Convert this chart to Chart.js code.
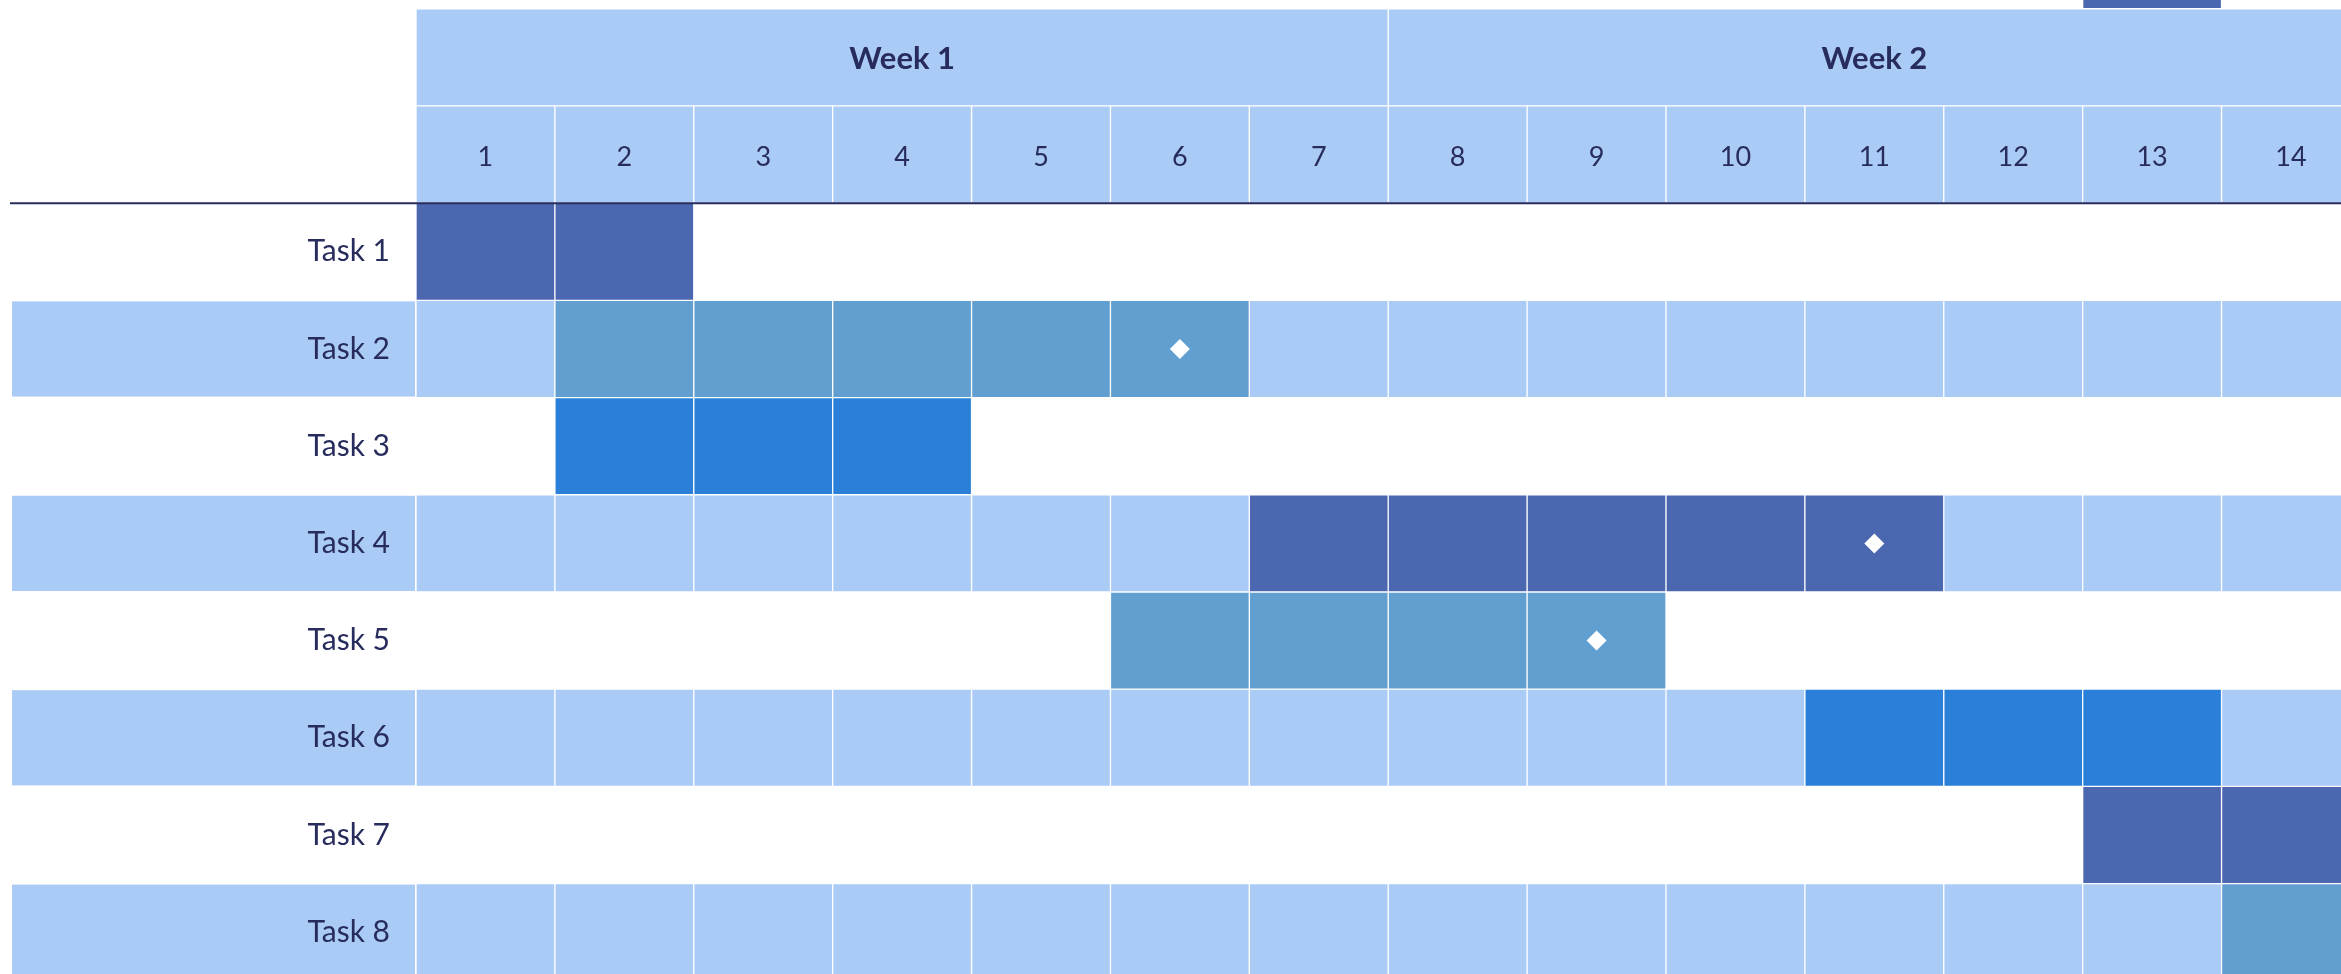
<!DOCTYPE html>
<html lang="en">
<head>
<meta charset="UTF-8">
<title>Task schedule</title>
<script src="https://cdn.jsdelivr.net/npm/chart.js"></script>
<style>
  html, body { margin: 0; padding: 0; background: #fff; overflow: hidden; }
  canvas { display: block; }
</style>
</head>
<body>
<canvas id="gantt" width="2341" height="974"></canvas>
<script>
const tasks = ['Task 1', 'Task 2', 'Task 3', 'Task 4', 'Task 5', 'Task 6', 'Task 7', 'Task 8'];
const taskStart = [1, 2, 2, 7, 6, 11, 13, 14];
const taskEnd = [2, 6, 4, 11, 9, 13, 14, 14];
const taskShade = ['dark', 'mid', 'bright', 'dark', 'mid', 'bright', 'dark', 'mid'];
const milestones = [null, 6, null, 11, 9, null, null, null];
const days = [1, 2, 3, 4, 5, 6, 7, 8, 9, 10, 11, 12, 13, 14];
const weeks = ['Week 1', 'Week 2'];
const weekFirst = [1, 8];
const weekLast = [7, 14];
// block peeking in above the header
const topBlockDays = [13];

const shades = { light: '#ABCBF7', dark: '#4A67AF', mid: '#629FD1', bright: '#2A80D8' };
const navy = '#272C5C';
const font = 'Lato, "Open Sans", sans-serif';

// rows top to bottom: a hidden row above, the two header rows, then the tasks
const rows = ['top', 'week', 'day'].concat(tasks);
const row = name => rows.indexOf(name);

function cell(r, from, to) {
    return { y: r, x: [from - 0.5, to + 0.5] };
}

// striped background rows (every second task)
let stripeCells = [];
tasks.forEach((t, i) => {
    if (i % 2 == 1) days.forEach(d => stripeCells.push(cell(row(t), d, d)));
});

let headerCells = [];
weeks.forEach((w, i) => headerCells.push(cell(row('week'), weekFirst[i], weekLast[i])));
days.forEach(d => headerCells.push(cell(row('day'), d, d)));

let taskCells = [];
let taskColors = [];
tasks.forEach((t, i) => {
    for (let d = taskStart[i]; d <= taskEnd[i]; d++) {
        taskCells.push(cell(row(t), d, d));
        taskColors.push(shades[taskShade[i]]);
    }
});
topBlockDays.forEach(d => {
    taskCells.push(cell(row('top'), d, d));
    taskColors.push(shades.dark);
});

let milestonePoints = [];
tasks.forEach((t, i) => {
    if (milestones[i] != null) milestonePoints.push({ x: milestones[i], y: row(t) });
});

const barStyle = {
    barPercentage: 1,
    categoryPercentage: 1,
    grouped: false,
    borderWidth: 1,
    borderColor: '#ffffff',
    borderSkipped: false
};

// stripes behind the labels, line under the header, header texts
const ganttDecor = {
    id: 'ganttDecor',
    beforeDraw(chart) {
        const ctx = chart.ctx;
        const y = chart.scales.y;
        ctx.save();
        ctx.fillStyle = shades.light;
        tasks.forEach((t, i) => {
            if (i % 2 == 1) {
                const top = y.getPixelForValue(row(t) - 0.5);
                const bottom = y.getPixelForValue(row(t) + 0.5);
                ctx.fillRect(y.left, top + 1, chart.chartArea.left - 1 - y.left, bottom - top - 2);
            }
        });
        ctx.restore();
    },
    afterDatasetsDraw(chart) {
        const ctx = chart.ctx;
        const x = chart.scales.x;
        const y = chart.scales.y;
        ctx.save();
        ctx.fillStyle = navy;
        ctx.textAlign = 'center';
        ctx.textBaseline = 'middle';

        ctx.font = 'bold 31px ' + font;
        const weekY = y.getPixelForValue(row('week'));
        weeks.forEach((w, i) => {
            ctx.fillText(w, x.getPixelForValue((weekFirst[i] + weekLast[i]) / 2), weekY + 2);
        });

        ctx.font = '27px ' + font;
        const dayY = y.getPixelForValue(row('day'));
        days.forEach(d => ctx.fillText(String(d), x.getPixelForValue(d), dayY + 3));

        const lineY = y.getPixelForValue(row('Task 1') - 0.5);
        ctx.strokeStyle = navy;
        ctx.lineWidth = 2;
        ctx.beginPath();
        ctx.moveTo(y.left - 2, lineY);
        ctx.lineTo(chart.width, lineY);
        ctx.stroke();
        ctx.restore();
    }
};

new Chart(document.getElementById('gantt'), {
    type: 'bar',
    data: {
        datasets: [
            {
                type: 'line',
                label: 'Milestones',
                data: milestonePoints,
                showLine: false,
                pointStyle: 'rectRot',
                pointRadius: 10,
                pointBackgroundColor: '#ffffff',
                pointBorderWidth: 0,
                order: 0
            },
            Object.assign({ label: 'Tasks', data: taskCells, backgroundColor: taskColors, order: 1 }, barStyle),
            Object.assign({ label: 'Header', data: headerCells, backgroundColor: shades.light, order: 2 }, barStyle),
            Object.assign({ label: 'Stripes', data: stripeCells, backgroundColor: shades.light, order: 3 }, barStyle)
        ]
    },
    options: {
        indexAxis: 'y',
        responsive: false,
        animation: false,
        layout: { autoPadding: false, padding: { left: 12, right: 0, top: 0, bottom: 0 } },
        plugins: { legend: { display: false }, tooltip: { enabled: false } },
        scales: {
            // the view is cut off at the right edge, part way into day 14
            x: { type: 'linear', bounds: 'data', min: 0.5, max: 14.36, display: false },
            // and at the bottom, part way into the last task row
            y: {
                type: 'linear',
                bounds: 'data',
                offset: false,
                reverse: true,
                min: 0.41,
                max: 10.43,
                grid: { display: false, drawTicks: false },
                border: { display: false },
                afterBuildTicks: s => {
                    s.ticks = tasks.map(t => ({ value: row(t) }));
                },
                afterFit: s => {
                    s.width = 404;
                    s.paddingTop = 0;
                    s.paddingBottom = 0;
                },
                ticks: {
                    autoSkip: false,
                    padding: 26,
                    color: navy,
                    font: { family: font, size: 30 },
                    callback: v => rows[v]
                }
            }
        }
    },
    plugins: [ganttDecor]
});
</script>
</body>
</html>
